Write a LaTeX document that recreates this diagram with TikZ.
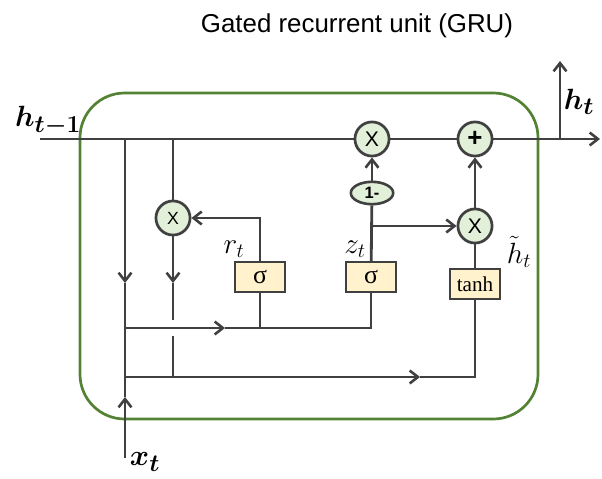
\documentclass[tikz,border=0pt]{standalone}
\usepackage{amsmath,bm}
\usepackage{fontspec}
\setmainfont{Liberation Serif}
\setsansfont{Liberation Sans}
\usetikzlibrary{arrows.meta,shapes.geometric}
\definecolor{linec}{HTML}{404040}
\definecolor{borderc}{HTML}{548235}
\definecolor{circfill}{HTML}{E2F0D9}
\definecolor{boxfill}{HTML}{FFF2CC}
\tikzset{
  wire/.style={draw=linec, line width=2.4pt},
  arr/.style={wire, -{Straight Barb[length=7pt,width=11pt,line width=2.2pt]}},
  opcirc/.style={circle, draw=linec, line width=2.3pt, fill=circfill, minimum size=29pt, inner sep=0pt, font=\sffamily\fontsize{18}{18}\selectfont},
  actbox/.style={rectangle, draw=linec, line width=1.9pt, fill=boxfill, minimum width=42pt, minimum height=25pt, inner sep=0pt, font=\fontsize{18}{18}\selectfont},
  lbl/.style={font=\fontsize{23}{23}\selectfont, inner sep=0pt},
  biglbl/.style={font=\fontsize{28}{28}\selectfont, inner sep=0pt}
}
\begin{document}
\begin{tikzpicture}[x=0.85pt,y=-0.85pt]
\useasboundingbox (0,0) rectangle (602,479);
\node[font=\sffamily\fontsize{22}{22}\selectfont] (title) at (357,26) {Gated recurrent unit (GRU)};
% border
\draw[draw=borderc, line width=2.3pt, rounded corners=38pt] (80,93) rectangle (538,419);
% nodes
\node[opcirc] (mtop) at (372,139) {X};
\node[opcirc] (plus) at (475,139) {\bfseries\fontsize{22}{22}\selectfont +};
\node[opcirc] (mr) at (173,218) {\fontsize{15}{15}\selectfont X};
\node[opcirc] (mh) at (475,226) {X};
\node[ellipse, draw=linec, line width=2.2pt, fill=circfill, minimum width=36pt, minimum height=19pt, inner sep=0pt, font=\sffamily\bfseries\fontsize{14}{14}\selectfont] (om) at (372,193) {1-};
\node[actbox] (sr) at (260,277) {\fontsize{22}{22}\selectfont σ};
\node[actbox] (sz) at (371,277) {\fontsize{22}{22}\selectfont σ};
\node[actbox] (th) at (475,284) {tanh};
% coordinates
\coordinate (hin) at (40,139);
\coordinate (hout) at (600,139);
\coordinate (split) at (560,139);
\coordinate (htop) at (560,61);
\coordinate (a1) at (125,139);
\coordinate (a1m) at (125,283);
\coordinate (a1b) at (125,377);
\coordinate (xt) at (125,458);
\coordinate (xtm) at (125,397);
\coordinate (b1) at (173,139);
\coordinate (b1m) at (173,283);
\coordinate (b1g) at (173,320);
\coordinate (b1g2) at (173,336);
\coordinate (b1b) at (173,377);
\coordinate (c0) at (125,328);
\coordinate (cm) at (225,328);
\coordinate (cr) at (260,328);
\coordinate (cz) at (371,328);
\coordinate (rtop) at (260,218);
\coordinate (zbr) at (371,226);
\coordinate (dm) at (420,377);
\coordinate (dr) at (475,377);
% main line
\draw[wire] (hin) -- (mtop);
\draw[wire] (mtop) -- (plus);
\draw[arr] (plus) -- (hout);
\draw[arr] (split) -- (htop);
% left vertical
\draw[arr] (a1) -- (a1m);
\draw[wire] (a1m) -- (a1b);
\draw[arr] (xt) -- (xtm);
\draw[wire] (xtm) -- (a1b);
% reset path
\draw[wire] (b1) -- (mr);
\draw[arr] (mr) -- (b1m);
\draw[wire] (b1m) -- (b1g);
\draw[wire] (b1g2) -- (b1b);
% middle horizontal
\draw[arr] (c0) -- (cm);
\draw[wire] (cm) -- (cz) -- (sz);
\draw[wire] (cr) -- (sr);
\draw[arr] (sr) -- (rtop) -- (mr);
% update path
\draw[wire] (sz) -- (om);
\draw[arr] (om) -- (mtop);
\draw[arr] (zbr) -- (mh);
% candidate path
\draw[arr] (a1b) -- (dm);
\draw[wire] (dm) -- (dr) -- (th);
\draw[wire] (th) -- (mh);
\draw[arr] (mh) -- (plus);
% labels
\node[lbl] (rt) at (234,249) {$r_t$};
\node[lbl] (zt) at (355,249) {$z_t$};
\node[lbl] (ht) at (519,252) {$\tilde{h}_t$};
\node[biglbl] (hl) at (48,121) {$\bm{h_{t-1}}$};
\node[biglbl] (hr) at (579,102) {$\bm{h_t}$};
\node[biglbl] (xl) at (145,462) {$\bm{x_t}$};
\end{tikzpicture}
\end{document}
